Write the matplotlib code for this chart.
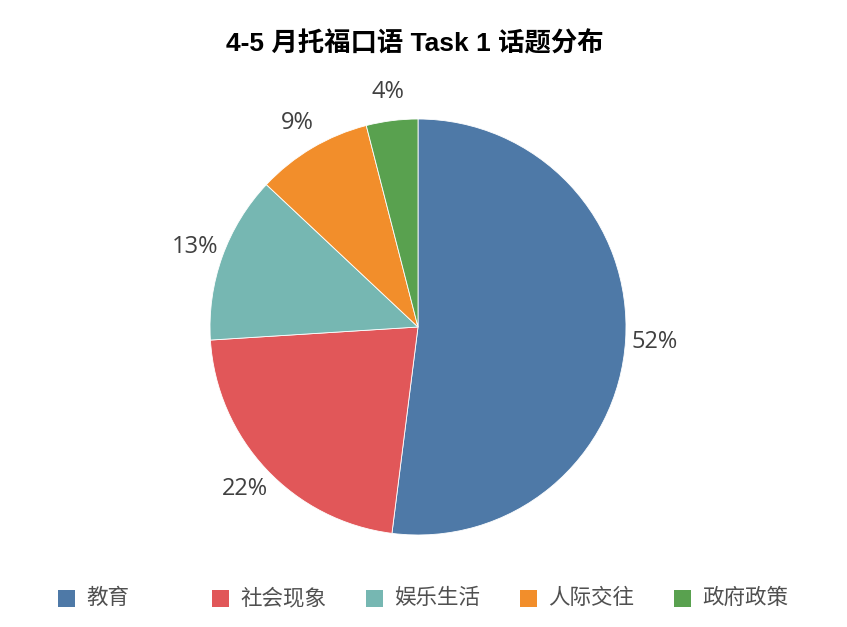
import matplotlib.pyplot as plt
from matplotlib.patches import Rectangle

# topic shares (%)
topics = ["教育", "社会现象", "娱乐生活", "人际交往", "政府政策"]
shares = [52, 22, 13, 9, 4]
colors = ["#4E79A7", "#E15759", "#76B7B2", "#F28E2B", "#59A14F"]
title = "4-5 月托福口语 Task 1 话题分布"

plt.rcParams['font.family'] = ['Liberation Sans', 'Noto Sans CJK SC', 'DejaVu Sans']

W, H = 847, 627
fig = plt.figure(figsize=(W / 100, H / 100), dpi=100)

# pie: centre (418, 327) px, radius 208 px
r_px = 208
lim = 1.25
side = 2 * lim * r_px
ax = fig.add_axes([(418 - side / 2) / W, (H - 327 - side / 2) / H, side / W, side / H])
wedges, texts, autotexts = ax.pie(
    shares, colors=colors, startangle=90, counterclock=False,
    autopct=lambda p: f"{p:.0f}%", pctdistance=1.14,
    wedgeprops=dict(linewidth=0.6, edgecolor="white"),
    textprops=dict(fontsize=17, color="#404040", family=['Open Sans', 'DejaVu Sans']),
)
ax.set_xlim(-lim, lim)
ax.set_ylim(-lim, lim)
ax.set_aspect("equal")

fig.text(415 / W, 1 - 44 / H, title, ha="center", va="center",
         fontsize=19, fontweight="bold")

# legend: evenly spaced entries along the bottom
for i, (name, c) in enumerate(zip(topics, colors)):
    x0 = 58 + i * 154
    fig.patches.append(Rectangle((x0 / W, 1 - 607 / H), 17 / W, 17 / H,
                                 transform=fig.transFigure, facecolor=c, edgecolor="none"))
    fig.text((x0 + 28) / W, 1 - 598 / H, name, ha="left", va="center",
             fontsize=15.5, color="#505050", family=['Noto Sans CJK SC'])

fig.savefig("out.png", dpi=100)
